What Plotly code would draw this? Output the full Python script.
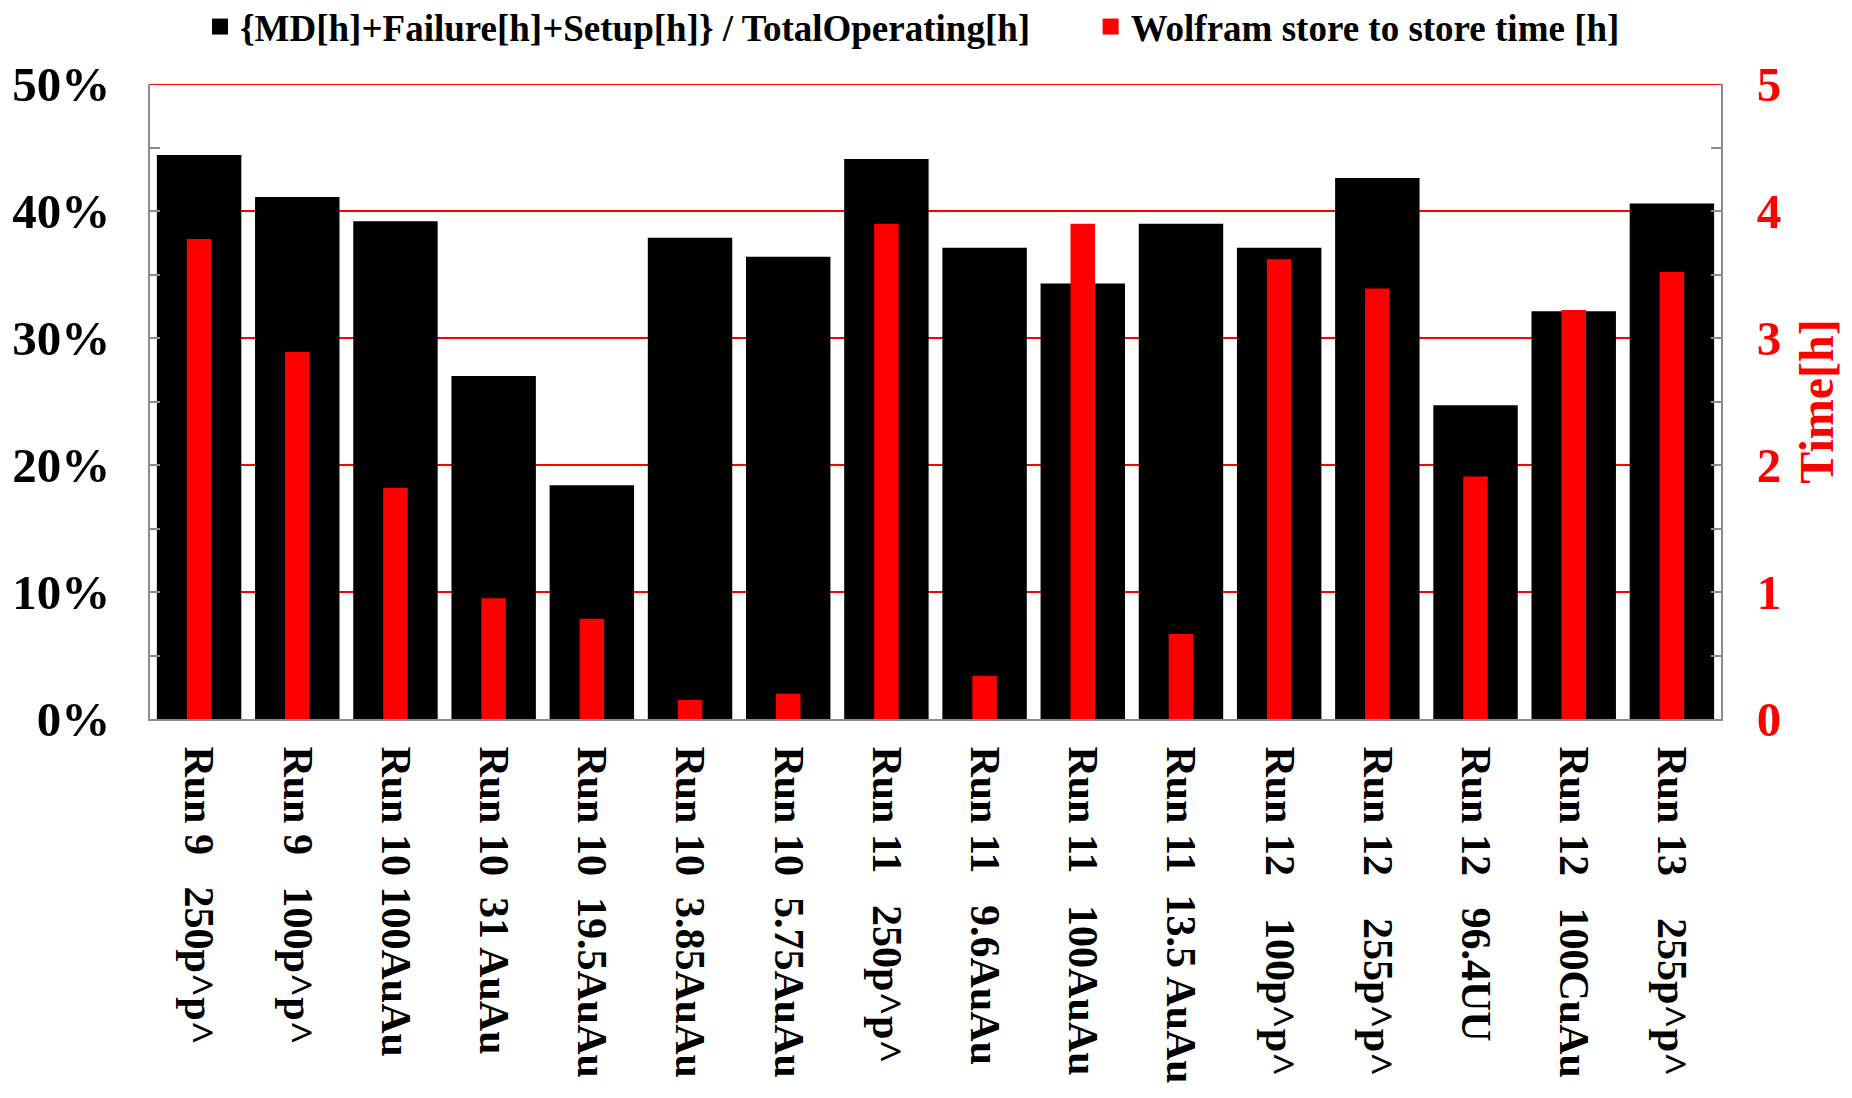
import plotly.graph_objects as go

NB = "\u00a0"
categories = [
    "Run 9" + NB * 3 + "250p^p^",
    "Run 9" + NB * 3 + "100p^p^",
    "Run 10" + NB + "100AuAu",
    "Run 10" + NB * 2 + "31 AuAu",
    "Run 10" + NB * 2 + "19.5AuAu",
    "Run 10" + NB * 2 + "3.85AuAu",
    "Run 10" + NB * 2 + "5.75AuAu",
    "Run 11" + NB * 3 + "250p^p^",
    "Run 11" + NB * 3 + "9.6AuAu",
    "Run 11" + NB * 3 + "100AuAu",
    "Run 11" + NB * 2 + "13.5 AuAu",
    "Run 12" + NB * 4 + "100p^p^",
    "Run 12" + NB * 4 + "255p^p^",
    "Run 12" + NB * 3 + "96.4UU",
    "Run 12" + NB * 3 + "100CuAu",
    "Run 13" + NB * 4 + "255p^p^",
]
downtime_fraction = [0.444, 0.411, 0.392, 0.270, 0.184, 0.379, 0.364, 0.441,
                     0.371, 0.343, 0.390, 0.371, 0.426, 0.247, 0.321, 0.406]
store_time_h = [3.78, 2.89, 1.82, 0.95, 0.79, 0.15, 0.20, 3.90,
                0.34, 3.90, 0.67, 3.62, 3.39, 1.91, 3.22, 3.52]

left_ticks = [0, 0.1, 0.2, 0.3, 0.4, 0.5]
left_labels = ["0%", "10%", "20%", "30%", "40%", "50%"]
right_ticks = [0, 1, 2, 3, 4, 5]

series_names = ["{MD[h]+Failure[h]+Setup[h]} / TotalOperating[h]",
                "Wolfram store to store time [h]"]

FONT = "Liberation Serif"
GRAY = "#8c8c8c"
RED = "#ff0000"
W, H = 1836, 1082

fig = go.Figure()
fig.add_trace(go.Bar(
    x=categories, y=downtime_fraction, width=0.86,
    marker=dict(color="black", line=dict(width=0)),
    name=series_names[0], showlegend=False, yaxis="y",
))
fig.add_trace(go.Bar(
    x=categories, y=store_time_h, width=0.25,
    marker=dict(color=RED, line=dict(width=0)),
    name=series_names[1], showlegend=False, yaxis="y2",
))
# legend proxies with larger square symbols
legend_pad = [NB * 6, ""]
for nm, pad, col in zip(series_names, legend_pad, ["black", RED]):
    fig.add_trace(go.Scatter(
        x=[None], y=[None], mode="markers", name=nm + pad,
        marker=dict(symbol="square", size=19, color=col),
    ))

fig.add_shape(type="line", xref="paper", yref="y", x0=0, x1=1, y0=0.5, y1=0.5,
              line=dict(color=RED, width=2), layer="below")

fig.update_layout(
    width=W, height=H,
    paper_bgcolor="white", plot_bgcolor="white",
    barmode="overlay",
    margin=dict(l=142, r=123, t=76, b=371, autoexpand=False),
    font=dict(family=FONT, color="black"),
    showlegend=True,
    legend=dict(
        orientation="h", xref="container", x=192 / W, xanchor="left",
        yref="container", y=1 - 19 / H, yanchor="middle",
        font=dict(family=FONT, size=37, weight="bold", color="black"),
        itemwidth=30, traceorder="normal", tracegroupgap=0,
        bgcolor="rgba(0,0,0,0)",
    ),
    xaxis=dict(
        type="category", tickangle=90, automargin=False,
        tickfont=dict(family=FONT, size=42, weight="bold", color="black"),
        showline=True, linecolor=GRAY, linewidth=2, ticks="",
        showgrid=False, ticklabelstandoff=17,
    ),
    yaxis=dict(
        range=[0, 0.5], tickvals=left_ticks, ticktext=left_labels, automargin=False,
        tickfont=dict(family=FONT, size=49, weight="bold", color="black"),
        showline=True, linecolor=GRAY, linewidth=2,
        ticks="inside", ticklen=10, tickcolor=GRAY, tickwidth=2,
        minor=dict(dtick=0.05, tick0=0, ticks="inside", ticklen=10, tickcolor=GRAY, tickwidth=2, showgrid=False),
        showgrid=True, gridcolor=RED, gridwidth=2,
        zeroline=False, ticklabelstandoff=28,
    ),
    yaxis2=dict(
        range=[0, 5], tickvals=right_ticks, overlaying="y", side="right", automargin=False,
        tickfont=dict(family=FONT, size=49, weight="bold", color=RED),
        showline=True, linecolor=GRAY, linewidth=2,
        ticks="inside", ticklen=10, tickcolor=GRAY, tickwidth=2,
        minor=dict(dtick=0.5, tick0=0, ticks="inside", ticklen=10, tickcolor=GRAY, tickwidth=2, showgrid=False),
        showgrid=False, zeroline=False, ticklabelstandoff=24,
        title=dict(text="Time[h]", font=dict(family=FONT, size=48, weight="bold", color=RED), standoff=19),
    ),
)

fig.write_html("out.html")
